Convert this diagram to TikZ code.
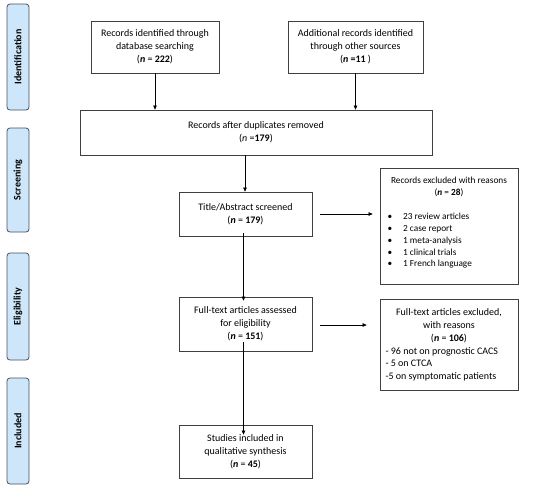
\documentclass[tikz,border=0pt]{standalone}
\usepackage{fontspec}
\setmainfont{Carlito}
\usetikzlibrary{arrows.meta}
\definecolor{phasefill}{RGB}{206,230,250}
\definecolor{phasedraw}{RGB}{70,80,95}
\begin{document}
\begin{tikzpicture}[x=1pt,y=-1pt,
  box/.style={draw=black!75,line width=0.7pt,fill=white,inner sep=0pt,font=\fontsize{10}{13}\selectfont,align=center},
  phase/.style={draw=phasedraw,line width=0.8pt,fill=phasefill,rounded corners=3pt,inner sep=0pt},
  phasetext/.style={rotate=90,font=\fontsize{10}{11}\selectfont\bfseries},
  arr/.style={-{Triangle[length=4pt,width=3.5pt]},line width=0.6pt,black}]
\useasboundingbox (0,0) rectangle (550,488);
% phase labels
\node[phase,minimum width=22,minimum height=106] (pid) at (18,57) {};
\node[phasetext] at (pid) {Identification};
\node[phase,minimum width=22,minimum height=104] (psc) at (18,180) {};
\node[phasetext] at (psc) {Screening};
\node[phase,minimum width=22,minimum height=107] (pel) at (18,306.5) {};
\node[phasetext] at (pel) {Eligibility};
\node[phase,minimum width=22,minimum height=106] (pin) at (18,431) {};
\node[phasetext] at (pin) {Included};
% boxes
\node[box,minimum width=128,minimum height=52] (b1) at (155,47) {Records identified through\\database searching\\(\textbf{\textit{n}} = \textbf{222})};
\node[box,minimum width=135,minimum height=52] (b2) at (355.5,47) {Additional records identified\\through other sources\\(\textbf{\textit{n}} \textbf{=11} )};
\node[box,minimum width=352,minimum height=45] (b3) at (256,132.5) {Records after duplicates removed\\(\textit{n} =\textbf{179})};
\node[box,minimum width=133,minimum height=44] (b4) at (245.5,214) {Title/Abstract screened\\(\textbf{\textit{n}} = \textbf{179})};
\node[box,minimum width=138,minimum height=116,align=left] (e1) at (449,226) {};
\node[font=\fontsize{9.3}{12}\selectfont,align=center,anchor=north] (e1t) at (449,174) {Records excluded with reasons\\(\textbf{\textit{n}} = \textbf{28})};
\node[font=\fontsize{9.3}{11.7}\selectfont,align=left,anchor=north west] (e1l) at (384,210) {\textbullet\hspace{11pt}23 review articles\\\textbullet\hspace{11pt}2 case report\\\textbullet\hspace{11pt}1 meta-analysis\\\textbullet\hspace{11pt}1 clinical trials\\\textbullet\hspace{11pt}1 French language};
\node[box,minimum width=133,minimum height=54] (b5) at (245.5,324) {Full-text articles assessed\\for eligibility\\(\textbf{\textit{n}} = \textbf{151})};
\node[box,minimum width=138,minimum height=91] (e2) at (449,344.5) {};
\node[font=\fontsize{10}{13}\selectfont,align=center,anchor=north] (e2t) at (449,305) {Full-text articles excluded,\\with reasons\\(\textbf{\textit{n}} = \textbf{106})};
\node[font=\fontsize{10}{12.5}\selectfont,align=left,anchor=north west] (e2l) at (382,344) {- 96 not on prognostic CACS\\- 5 on CTCA\\-5 on symptomatic patients};
\node[box,minimum width=133,minimum height=53] (b6) at (245.5,451.5) {Studies included in\\qualitative synthesis\\(\textbf{\textit{n}} = \textbf{45})};
% arrows
\draw[arr] (b1.south) -- (b1.south |- b3.north);
\draw[arr] (b2.south) -- (b2.south |- b3.north);
\draw[arr] ([xshift=-11pt]b3.south) -- ([xshift=-0.5pt]b4.north);
\draw[arr] ([shift={(-2pt,3pt)}]b4.south) -- ([shift={(-2pt,-4pt)}]b5.north);
\draw[arr] ([shift={(-2pt,9pt)}]b5.south) -- ([shift={(-2pt,-10pt)}]b6.north);
\coordinate (a1s) at ([xshift=8pt]b4.east);
\coordinate (a1e) at ([xshift=-7pt]b4.east -| e1.west);
\draw[arr] (a1s) -- (a1e);
\coordinate (a2s) at ([shift={(8pt,-1pt)}]b5.east);
\coordinate (a2e) at ([shift={(-13pt,-1pt)}]b5.east -| e2.west);
\draw[arr] (a2s) -- (a2e);
\end{tikzpicture}
\end{document}
